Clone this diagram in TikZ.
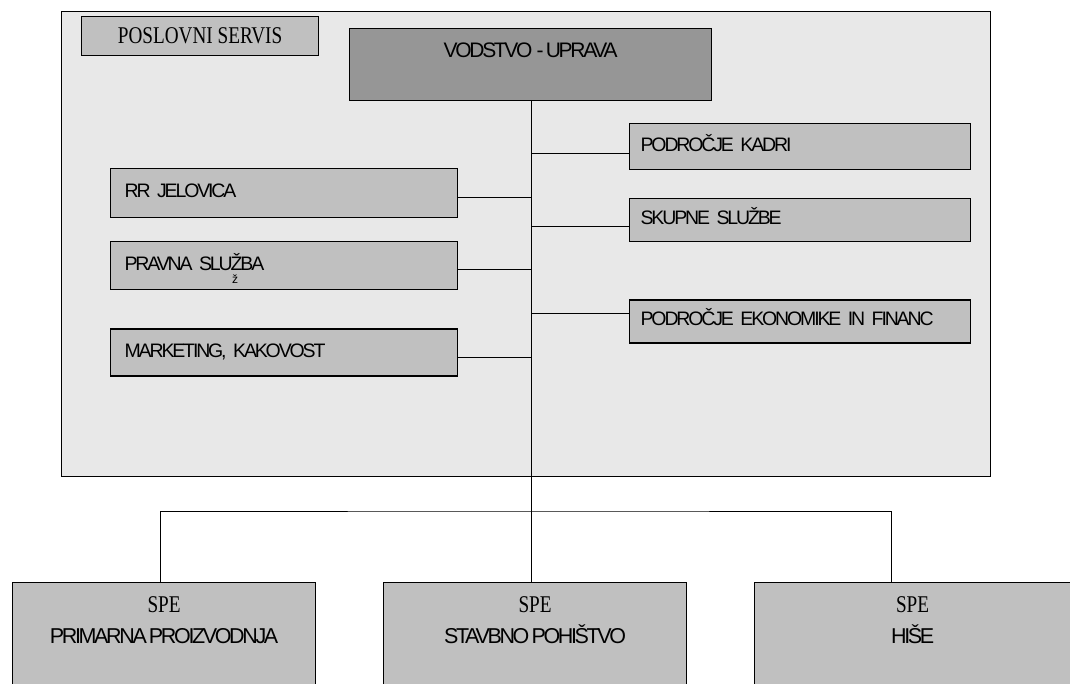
\documentclass[tikz,border=0pt]{standalone}
\usepackage{fontspec}
\setmainfont{Liberation Sans}
\newfontfamily\serfont{Liberation Serif}[FakeStretch=0.8]
\newfontfamily\sanfont{Liberation Sans}[LetterSpace=-11, WordSpace=0.6]
\usetikzlibrary{positioning,calc}
\definecolor{framecol}{RGB}{232,232,232}
\definecolor{unitcol}{RGB}{192,192,192}
\definecolor{headcol}{RGB}{150,150,150}

\begin{document}
\begin{tikzpicture}[
  x=1pt, y=-1pt,
  n/.style={draw, line width=1.2pt, fill=unitcol, anchor=north west, inner sep=0pt,
    font=\sanfont\fontsize{19.5}{21}\selectfont},
  dep/.style={n, text width=319pt, align=left, text height=13pt, text depth=4pt},
  spe/.style={n, minimum width=303pt, align=center, inner ysep=14pt, text depth=90pt,
    font=\sanfont\fontsize{21.5}{31}\selectfont},
  e/.style={line width=1pt},
]
\useasboundingbox (0,0) rectangle (1070,684);
\clip (0,0) rectangle (1070,684);
% business services frame
\node[n, fill=framecol, minimum width=929pt, minimum height=465pt] (frame) at (61,11) {};
\node[n, minimum width=237pt, minimum height=39pt, font=\serfont\fontsize{24}{26}\selectfont] (servis) at (81,16) {POSLOVNI SERVIS};
\node[n, fill=headcol, minimum width=362pt, minimum height=72pt, text depth=28pt,
  font=\sanfont\fontsize{21}{23}\selectfont] (vod) at (349,28) {VODSTVO\ \ - UPRAVA};
% left side
\node[dep, minimum width=347pt, minimum height=49pt] (rr) at (110,168) {RR JELOVICA};
\node[dep, minimum width=347pt, minimum height=48pt, below=23pt of rr] (pravna) {PRAVNA SLUŽBA};
\node[dep, minimum width=347pt, minimum height=47pt, below=38pt of pravna] (mark) {MARKETING, KAKOVOST};
\node[font=\sanfont\fontsize{12}{13}\selectfont, inner sep=0pt] (caron) at (235,279) {ž};
% right side
\node[dep, minimum width=341pt, minimum height=46pt] (kadri) at (629,123) {PODROČJE KADRI};
\node[dep, minimum width=341pt, minimum height=43pt, below=28pt of kadri] (skup) {SKUPNE SLUŽBE};
\node[dep, minimum width=341pt, minimum height=43pt, below=57pt of skup] (ekon) {PODROČJE EKONOMIKE IN FINANC};
% business units
\node[spe] (spe1) at (12,582) {{\serfont\fontsize{24}{26}\selectfont SPE}\\ PRIMARNA PROIZVODNJA};
\node[spe] (spe2) at (383,582) {{\serfont\fontsize{24}{26}\selectfont SPE}\\ STAVBNO POHIŠTVO};
\node[spe, minimum width=316pt] (spe3) at (754,582) {{\serfont\fontsize{24}{26}\selectfont SPE}\\ HIŠE};
\coordinate (hub) at (531,511);
\draw[e] (vod.south -| hub) -- (hub);
\draw[e] ([yshift=-4.5pt]rr.east) -- ([yshift=-4.5pt]rr.east -| hub);
\draw[e] ([yshift=-4pt]pravna.east) -- ([yshift=-4pt]pravna.east -| hub);
\draw[e] ([yshift=-4.5pt]mark.east) -- ([yshift=-4.5pt]mark.east -| hub);
\draw[e] ([yshift=-7pt]kadri.west) -- ([yshift=-7pt]kadri.west -| hub);
\draw[e] ([yshift=-6.5pt]skup.west) -- ([yshift=-6.5pt]skup.west -| hub);
\draw[e] ([yshift=7.5pt]ekon.west) -- ([yshift=7.5pt]ekon.west -| hub);
\draw[e] ([xshift=-4pt]spe1.north) |- (hub) -| ([xshift=-21pt]spe3.north);
\draw[e] (hub) -- (hub |- spe2.north);
\end{tikzpicture}
\end{document}
